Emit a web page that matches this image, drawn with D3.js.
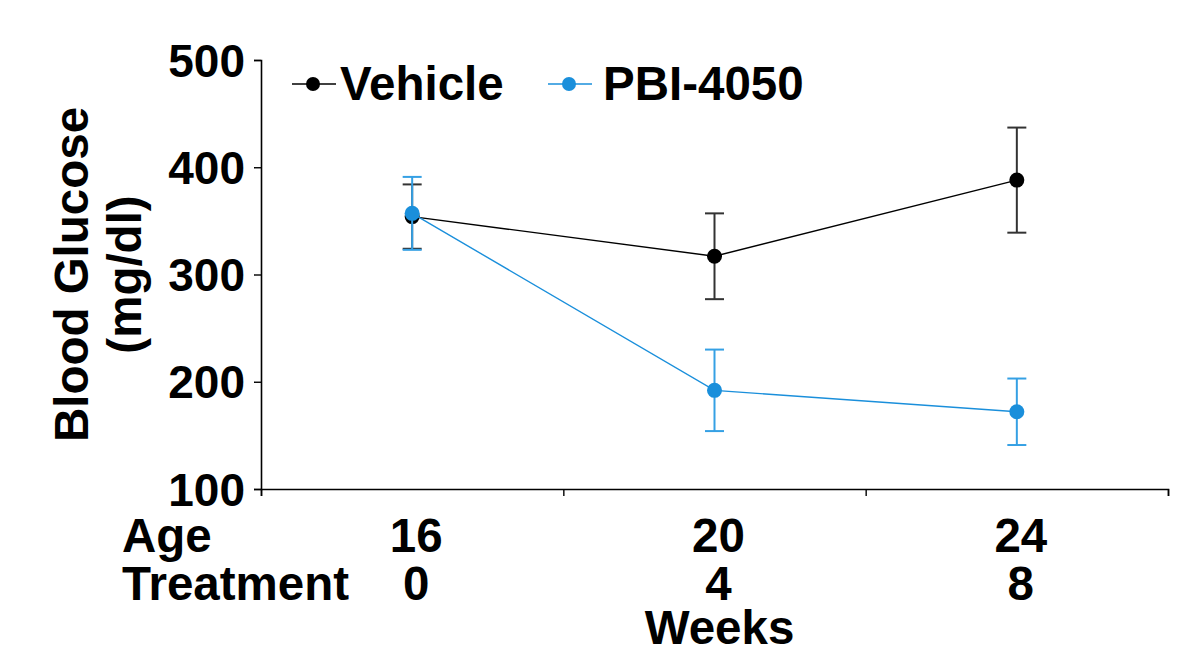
<!DOCTYPE html>
<html>
<head>
<meta charset="utf-8">
<script src="https://cdn.jsdelivr.net/npm/d3@7"></script>
<style>
	body { margin: 0; background: #fff; }
	text { font-family: "Liberation Sans", Arial, sans-serif; font-weight: bold; fill: #000; }
</style>
</head>
<body>
<div id="chart"></div>
<script>
// Ages (weeks) and treatment weeks
const ages = [16, 20, 24];
const treatmentWeeks = [0, 4, 8];
const yTicks = [100, 200, 300, 400, 500];

// Blood glucose mean and SEM per group
const vehicleMean = [354, 317, 388];
const vehicleErr = [30, 40, 49];
const pbiMean = [357, 192, 172];
const pbiErr = [34, 38, 31];

const series = [
	{name: "Vehicle", color: "#000", barColor: "#333", mean: vehicleMean, err: vehicleErr},
	{name: "PBI-4050", color: "#1a8fdb", barColor: "#35a0e4", mean: pbiMean, err: pbiErr},
];

const width = 1182, height = 651;
const FONT = 46;
const LABEL_FONT = 47.5;

const svg = d3.select("#chart").append("svg")
	.attr("width", width)
	.attr("height", height);

const x = d3.scaleLinear().domain([14, 26]).range([261, 1168]);
const y = d3.scaleLinear().domain([100, 500]).range([489, 60]);

// Axes
const xAxis = svg.append("g")
	.attr("transform", `translate(0,${y(100)})`)
	.call(d3.axisBottom(x).tickValues([14, 18, 22, 26]).tickSize(7).tickFormat(""));
xAxis.select(".domain").attr("stroke-width", 1.6);
xAxis.selectAll(".tick line").attr("stroke-width", 1.4);

const yAxis = svg.append("g")
	.attr("transform", `translate(${x(14)},0)`)
	.call(d3.axisLeft(y).tickValues(yTicks).tickSize(7).tickPadding(9));
yAxis.select(".domain").attr("stroke-width", 1.6);
yAxis.selectAll(".tick text")
	.attr("font-size", FONT)
	.attr("font-family", "Liberation Sans, Arial, sans-serif")
	.attr("font-weight", "bold")
	.attr("fill", "#000")
	.attr("dy", "0.35em");
yAxis.selectAll(".tick line").attr("stroke-width", 1.4);

// Y title
svg.append("text")
	.attr("transform", `translate(88,${y(300)}) rotate(-90)`)
	.attr("text-anchor", "middle")
	.attr("font-size", LABEL_FONT)
	.text("Blood Glucose");
svg.append("text")
	.attr("transform", `translate(141,${y(300)}) rotate(-90)`)
	.attr("text-anchor", "middle")
	.attr("font-size", LABEL_FONT)
	.text("(mg/dl)");

// X tick rows
svg.append("text").attr("x", 122).attr("y", 552).attr("font-size", LABEL_FONT).text("Age");
svg.append("text").attr("x", 122).attr("y", 600).attr("font-size", LABEL_FONT).text("Treatment");
svg.selectAll(".age-lab")
	.data(ages)
	.join("text")
	.attr("class", "age-lab")
	.attr("x", d => x(d) + 4)
	.attr("y", 552)
	.attr("text-anchor", "middle")
	.attr("font-size", LABEL_FONT)
	.text(d => d);
svg.selectAll(".trt-lab")
	.data(treatmentWeeks)
	.join("text")
	.attr("class", "trt-lab")
	.attr("x", (d, i) => x(ages[i]) + 4)
	.attr("y", 600)
	.attr("text-anchor", "middle")
	.attr("font-size", LABEL_FONT)
	.text(d => d);
svg.append("text")
	.attr("x", x(20) + 5)
	.attr("y", 644)
	.attr("text-anchor", "middle")
	.attr("font-size", LABEL_FONT)
	.text("Weeks");

// Series
const line = d3.line().x(d => x(d.age)).y(d => y(d.v));
const capW = 9.5;

for (const s of series) {
	const pts = ages.map((a, i) => ({age: a, v: s.mean[i], e: s.err[i]}));
	const g = svg.append("g");

	g.append("path")
		.datum(pts)
		.attr("d", line)
		.attr("fill", "none")
		.attr("stroke", s.color)
		.attr("stroke-width", 1.4);

	// Error bars
	const eb = g.selectAll(".eb").data(pts).join("g");
	eb.append("line")
		.attr("x1", d => x(d.age)).attr("x2", d => x(d.age))
		.attr("y1", d => y(d.v + d.e)).attr("y2", d => y(d.v - d.e))
		.attr("stroke", s.barColor).attr("stroke-width", 2);
	eb.append("line")
		.attr("x1", d => x(d.age) - capW).attr("x2", d => x(d.age) + capW)
		.attr("y1", d => y(d.v + d.e)).attr("y2", d => y(d.v + d.e))
		.attr("stroke", s.barColor).attr("stroke-width", 2);
	eb.append("line")
		.attr("x1", d => x(d.age) - capW).attr("x2", d => x(d.age) + capW)
		.attr("y1", d => y(d.v - d.e)).attr("y2", d => y(d.v - d.e))
		.attr("stroke", s.barColor).attr("stroke-width", 2);

	g.selectAll("circle")
		.data(pts)
		.join("circle")
		.attr("cx", d => x(d.age))
		.attr("cy", d => y(d.v))
		.attr("r", 7.5)
		.attr("fill", s.color);
}

// Legend
const legendX = [292, 548];
const legend = svg.selectAll(".legend")
	.data(series)
	.join("g")
	.attr("class", "legend")
	.attr("transform", (d, i) => `translate(${legendX[i]},84)`);
legend.append("line")
	.attr("x1", 0).attr("x2", 44)
	.attr("stroke", d => d.color).attr("stroke-width", 1.6);
legend.append("circle")
	.attr("cx", 21).attr("r", 7)
	.attr("fill", d => d.color);
legend.append("text")
	.attr("x", (d, i) => i === 0 ? 48 : 55)
	.attr("y", 16)
	.attr("font-size", LABEL_FONT)
	.text(d => d.name);
</script>
</body>
</html>
